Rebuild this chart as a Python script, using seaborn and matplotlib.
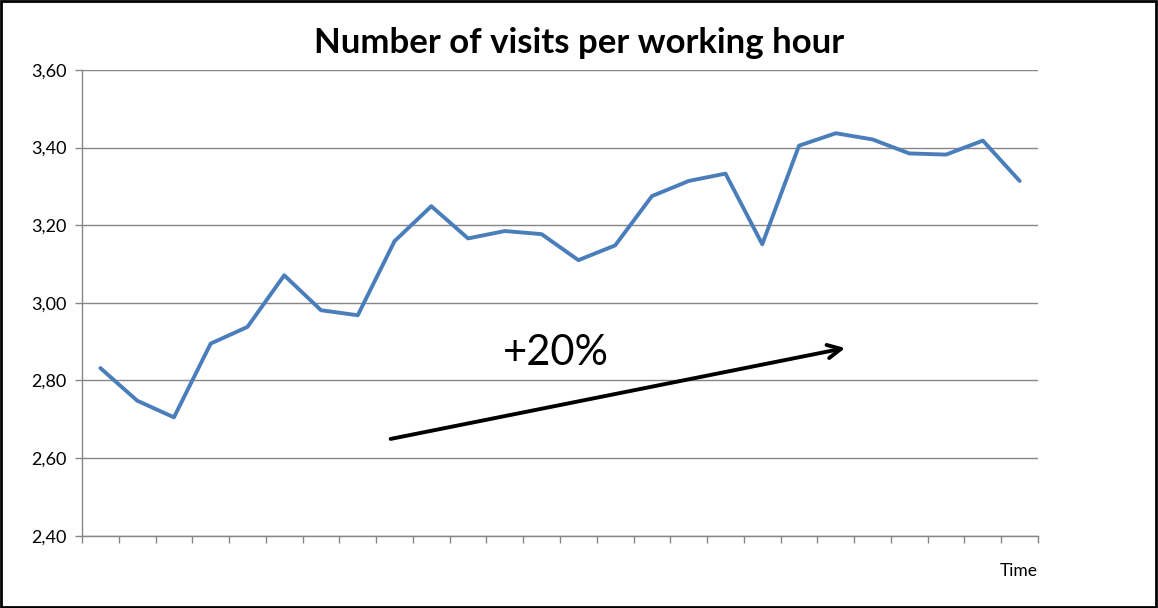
import numpy as np
import pandas as pd
import matplotlib
matplotlib.use("Agg")
import matplotlib.pyplot as plt
import seaborn as sns

# visitas por hora trabalhada (26 periodos)
periodo = list(range(26))
visitas = [2.832, 2.748, 2.705, 2.895, 2.938, 3.071, 2.981, 2.968, 3.159, 3.249,
           3.166, 3.185, 3.177, 3.110, 3.148, 3.275, 3.314, 3.333, 3.151, 3.405,
           3.437, 3.421, 3.385, 3.382, 3.418, 3.314]
yticks = [2.40, 2.60, 2.80, 3.00, 3.20, 3.40, 3.60]
ytick_labels = ["2,40", "2,60", "2,80", "3,00", "3,20", "3,40", "3,60"]

df = pd.DataFrame({"periodo": periodo, "visitas": visitas})

sns.set_style("white")
plt.rcParams['font.family'] = ['Lato', 'DejaVu Sans']
plt.rcParams['text.color'] = 'black'
plt.rcParams['ytick.color'] = 'black'

fig = plt.figure(figsize=(11.58, 6.08), dpi=100)
ax = fig.add_axes([0.0708, 0.1189, 0.8256, 0.766])

sns.lineplot(data=df, x="periodo", y="visitas", color="#4A7EBB", linewidth=2.8, ax=ax)

ax.set_xlim(-0.5, 25.5)
ax.set_ylim(2.40, 3.60)
ax.set_yticks(yticks)
ax.set_yticklabels(ytick_labels, fontsize=13)
ax.set_xticks(np.arange(-0.5, 26, 1))
ax.set_xticklabels([])
ax.yaxis.grid(True, color="#868686", linewidth=1)
ax.set_axisbelow(True)
ax.tick_params(axis="both", direction="out", length=5, color="#868686", width=1,
               bottom=True, left=True, labelcolor="black")
ax.tick_params(axis="y", pad=6)
for s in ["top", "right"]:
    ax.spines[s].set_visible(False)
for s in ["left", "bottom"]:
    ax.spines[s].set_color("#868686")
    ax.spines[s].set_linewidth(1)
ax.set_xlabel("")
ax.set_ylabel("")

ax.text(1.0, -0.075, "Time", transform=ax.transAxes, ha="right", va="center", fontsize=12.5)

fig.text(0.5, 0.93, "Number of visits per working hour", ha="center", va="center",
         fontsize=25, fontweight="bold")

# seta de tendencia
ax.annotate("", xy=(20.33, 2.885), xytext=(7.82, 2.648),
            arrowprops=dict(arrowstyle="->", color="black", lw=2.8, mutation_scale=24))
ax.text(12.4, 2.87, "+20%", fontsize=30, ha="center", va="center")

# moldura
fig.patches.append(plt.Rectangle((0.001, 0.002), 0.997, 0.996, transform=fig.transFigure,
                                 fill=False, edgecolor="black", linewidth=2))

plt.savefig("out.png", dpi=100)
